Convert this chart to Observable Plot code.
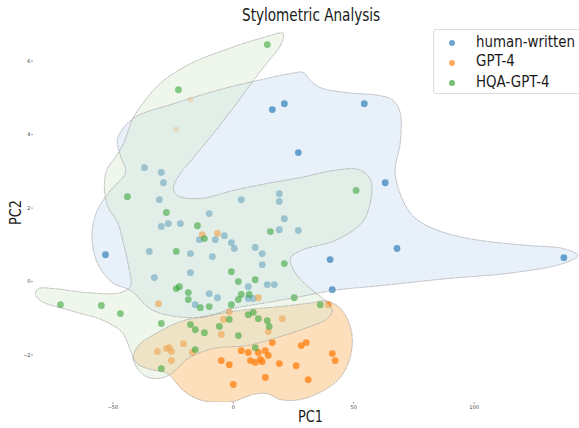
<!DOCTYPE html>
<html><head><meta charset="utf-8">
<script src="https://cdn.jsdelivr.net/npm/d3@7"></script>
<script src="https://cdn.jsdelivr.net/npm/@observablehq/plot@0.6"></script>
<style>
body{margin:0;background:#fff;font-family:"DejaVu Sans",sans-serif}
#wrap{position:relative;width:579px;height:428px;overflow:hidden;background:#fff}
.t{position:absolute;white-space:nowrap;line-height:1;transform-origin:0 0;color:#1a1a1a;font-family:"DejaVu Sans",sans-serif}
#legend{position:absolute;left:433px;top:29px;width:170px;height:65px;border:1px solid #dcdcdc;border-radius:3px;background:rgba(255,255,255,0.85);box-sizing:border-box}
.sw{position:absolute;width:6px;height:6px;border-radius:50%}
</style></head><body><div id="wrap"></div>
<script>
// ---- data ----
const categories = ["human-written", "GPT-4", "HQA-GPT-4"];
const colors = ["#1f77b4", "#ff7f0e", "#2ca02c"];

const humanPC1 = [16.2,21.2,54.4,27.0,63.1,-36.9,-29.9,-29.0,-30.7,3.3,19.1,19.1,-10.0,21.2,-29.9,-27.0,-22.0,19.1,27.0,-14.1,-7.5,-3.7,-0.8,0.4,-53.1,-34.9,-17.8,-8.7,9.1,12.0,12.0,40.2,68.0,137.3,-32.8,-17.8,6.2,14.1,17.0,41.1,-10.0,-6.6,-15.8,6.2,8.3];
const humanPC2 = [4.68,4.84,4.84,3.51,2.69,3.10,2.97,2.69,2.23,2.23,2.39,2.18,1.85,1.71,1.50,1.58,1.58,1.41,1.39,1.14,1.14,1.25,1.06,0.90,0.73,0.82,0.76,0.68,0.93,0.76,0.46,0.60,0.90,0.65,0.11,0.24,-0.14,-0.08,-0.08,-0.22,-0.33,-0.44,-0.63,-0.46,-0.46];

const gptPC1 = [-12.9,-6.6,10.4,-31.1,-1.7,-4.1,20.3,39.4,-5.0,14.5,-20.7,-31.5,-27.8,-26.6,-25.7,-17.0,-25.7,3.3,6.2,10.4,13.3,14.5,16.2,28.2,30.3,-5.0,-1.7,7.1,9.1,11.2,12.0,19.1,26.1,41.1,42.3,13.3,31.1,0.0];
const gptPC2 = [1.28,1.31,-0.44,-0.60,-0.82,-1.03,-1.01,-0.63,-1.44,-1.36,-1.69,-1.90,-1.82,-1.80,-1.90,-1.93,-2.15,-1.88,-1.93,-1.93,-1.88,-2.01,-1.66,-1.74,-1.66,-2.15,-2.26,-2.15,-2.20,-2.12,-2.18,-2.23,-2.29,-1.96,-2.15,-2.61,-2.67,-2.80];
const gptFaintPC1 = [-17.8,-23.7];
const gptFaintPC2 = [4.95,4.14];

const hqaPC1 = [14.1,-22.8,-44.0,-27.8,51.0,-14.9,15.4,-12.0,-23.7,21.2,-0.8,2.1,9.1,-23.7,-22.4,-18.7,-18.7,3.3,6.6,2.1,25.3,-71.8,-54.8,-46.9,-13.7,-10.0,-0.8,36.1,-1.7,6.2,8.3,10.4,14.1,14.9,-29.9,-17.8,-15.8,-12.0,-5.8,2.1,-15.8,9.1,-29.9];
const hqaPC2 = [6.45,5.22,2.31,1.88,2.48,1.52,1.36,1.17,0.82,0.49,0.27,0.00,0.05,-0.19,-0.14,-0.30,-0.49,-0.35,-0.35,-0.49,-0.44,-0.63,-0.65,-0.87,-0.71,-0.68,-0.63,-0.63,-1.03,-0.90,-0.84,-1.01,-1.06,-1.22,-1.14,-1.17,-1.31,-1.39,-1.22,-1.47,-1.85,-1.80,-2.37];

// density-region outlines (outer KDE level), in PC units
const humanRegionPC1 = [-41.5,-24.9,-4.1,10.0,23.7,29.0,32.0,36.1,47.3,61.0,66.4,69.3,69.3,67.2,69.3,73.4,78.8,88.8,102.5,123.2,136.9,143.2,136.9,116.2,88.8,61.0,41.5,27.8,14.1,0.0,-13.7,-33.2,-42.7,-49.8,-55.2,-58.1,-58.5,-56.0,-51.0,-44.8,-46.9,-48.1];
const humanRegionPC2 = [4.44,4.84,5.25,5.47,5.66,5.69,5.47,5.28,5.14,5.06,4.93,4.60,3.76,3.02,2.39,1.88,1.58,1.31,1.12,0.98,0.90,0.71,0.49,0.24,0.08,-0.11,-0.24,-0.41,-0.57,-0.73,-0.98,-0.79,-0.24,-0.05,0.35,0.84,1.47,2.01,2.48,2.97,3.43,3.89];

const gptRegionPC1 = [-41.5,-39.4,-31.5,-22.0,-8.3,5.8,19.5,33.2,38.2,43.6,47.7,49.4,48.5,44.4,37.3,27.8,19.5,14.1,8.3,0.0,-6.6,-13.7,-20.7,-27.4,-34.4,-39.4];
const gptRegionPC2 = [-2.07,-1.74,-1.39,-1.09,-0.90,-0.76,-0.68,-0.57,-0.52,-0.68,-1.06,-1.52,-2.07,-2.61,-2.97,-3.21,-3.21,-3.05,-3.07,-3.26,-3.28,-3.22,-2.97,-2.50,-2.39,-2.26];

const hqaRegionPC1 = [20.7,19.5,14.1,8.3,0.0,-8.3,-16.6,-22.0,-24.9,-23.2,-13.7,0.0,14.1,27.8,41.5,51.9,56.8,57.3,53.5,42.3,27.8,23.7,25.7,32.0,38.2,41.1,39.0,30.7,18.3,5.8,-8.3,-19.1,-24.1,-29.0,-35.3,-39.8,-42.7,-46.1,-53.9,-67.6,-80.1,-82.2,-80.9,-74.7,-60.6,-46.9,-42.7,-43.6,-45.6,-48.1,-51.9,-53.5,-52.7,-48.5,-45.6,-41.5,-35.7,-29.0,-17.8,-4.1,12.4];
const hqaRegionPC2 = [6.75,6.42,5.96,5.47,4.73,4.03,3.37,2.94,2.56,2.34,2.26,2.48,2.67,2.83,3.02,3.05,2.80,2.29,1.61,1.12,0.84,0.63,0.24,-0.19,-0.52,-0.79,-1.01,-1.25,-1.52,-1.74,-1.82,-2.10,-2.42,-2.61,-2.61,-2.37,-1.88,-1.39,-1.06,-0.79,-0.52,-0.33,-0.19,-0.19,-0.30,-0.30,-0.11,0.44,1.03,1.61,2.01,2.48,3.02,3.43,3.76,4.46,5.01,5.47,5.93,6.29,6.64];

const xTicks = [-50, 0, 50, 100];
const yTicks = [-2, 0, 2, 4, 6];

// ---- build ----
const pts = (xs, ys) => xs.map((x, i) => ({x, y: ys[i]}));
const human = pts(humanPC1, humanPC2);
const gpt = pts(gptPC1, gptPC2);
const gptFaint = pts(gptFaintPC1, gptFaintPC2);
const hqa = pts(hqaPC1, hqaPC2);
const humanRegion = pts(humanRegionPC1, humanRegionPC2);
const gptRegion = pts(gptRegionPC1, gptRegionPC2);
const hqaRegion = pts(hqaRegionPC1, hqaRegionPC2);

const regionFill = (data, fill, op) => Plot.line(data, {x: "x", y: "y", curve: "catmull-rom-closed", fill, fillOpacity: op, stroke: "none", clip: true});
const regionEdge = (data) => Plot.line(data, {x: "x", y: "y", curve: "catmull-rom-closed", stroke: "#9a9a9a", strokeWidth: 0.75, strokeDasharray: "0.8,1.5", clip: true});
const dots = (data, fill, op, r = 3.4) => Plot.dot(data, {x: "x", y: "y", r, fill, fillOpacity: op, stroke: "none", clip: true});

const chart = Plot.plot({
  width: 579, height: 428,
  marginLeft: 33, marginRight: 0, marginTop: 22, marginBottom: 26,
  style: {fontFamily: "DejaVu Sans, sans-serif", background: "transparent"},
  x: {domain: [-83, 143.8], axis: null},
  y: {domain: [-3.29, 7.05], axis: null},
  marks: [
    regionFill(humanRegion, "#c9dcf2", 0.42),
    dots(human, colors[0], 0.65),
    regionFill(gptRegion, "#fcc88a", 0.58),
    dots(gpt, colors[1], 0.75),
    dots(gptFaint, colors[1], 0.3, 3),
    regionFill(hqaRegion, "#dbead3", 0.45),
    dots(hqa, colors[2], 0.55),
    regionEdge(humanRegion),
    regionEdge(gptRegion),
    regionEdge(hqaRegion),
    Plot.axisX({ticks: xTicks, tickSize: 2, tickPadding: 1, fontSize: 5, label: null, stroke: "#666", fill: "#444", strokeWidth: 0.6}),
    Plot.axisY({ticks: yTicks, tickSize: 2, tickPadding: 1, fontSize: 5, label: null, stroke: "#666", fill: "#444", strokeWidth: 0.6})
  ]
});

const wrap = document.getElementById("wrap");
wrap.appendChild(chart);

function addText(txt, css) {
  const d = document.createElement("div");
  d.className = "t";
  d.textContent = txt;
  Object.assign(d.style, css);
  wrap.appendChild(d);
  return d;
}
addText("Stylometric Analysis", {left: "242px", top: "6.3px", fontSize: "13.6px", transform: "scale(1,1.34)"});
addText("PC1", {left: "298px", top: "409.9px", fontSize: "12.9px", transform: "scale(1,1.17)"});
addText("PC2", {left: "0px", top: "0px", fontSize: "12.9px", transform: "translate(22px,225px) rotate(-90deg) scale(1,1.28) translate(0,-10.9px)"});

const legend = document.createElement("div");
legend.id = "legend";
wrap.appendChild(legend);
const rowBase = [47.3, 67.2, 87.4];
const dotY = [43.3, 63.3, 82.8];
categories.forEach((c, i) => {
  const s = document.createElement("div");
  s.className = "sw";
  s.style.left = (452 - 3 - 433 - 1) + "px";
  s.style.top = (dotY[i] - 3 - 29 - 1) + "px";
  s.style.background = colors[i];
  s.style.opacity = 0.65;
  legend.appendChild(s);
  addText(c, {left: "476px", top: (rowBase[i] - 13.8) + "px", fontSize: "13.4px", transform: "scale(1,1.22)"});
});
</script>
</body></html>
